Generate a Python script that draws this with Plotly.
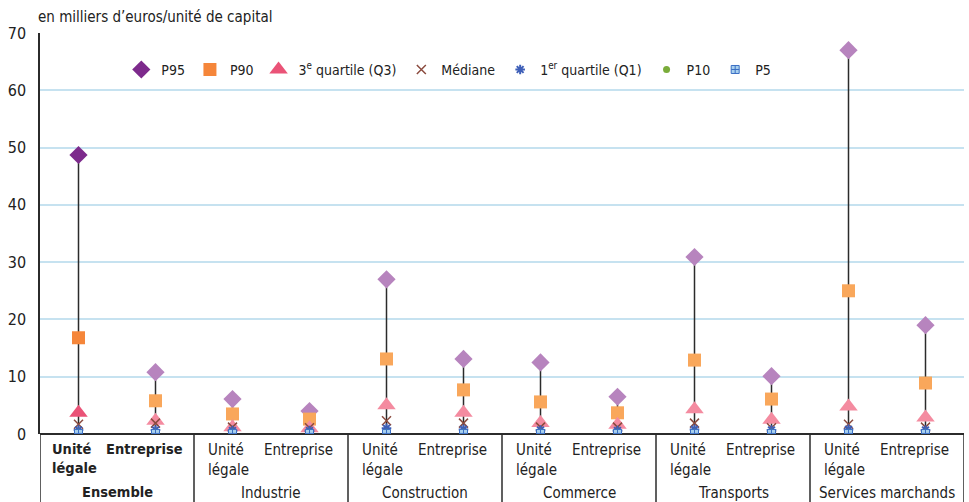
import plotly.graph_objects as go

# categories (12 points, 6 groups)
groups = ["Ensemble", "Industrie", "Construction", "Commerce", "Transports", "Services marchands"]
units = ["Unité<br>légale", "Entreprise"]

# values in thousands of euros / unit of capital
p95 = [48.7, 10.8, 6.1, 4.0, 27.0, 13.1, 12.5, 6.5, 30.9, 10.1, 67.0, 19.0]
p90 = [16.8, 5.8, 3.5, 2.6, 13.1, 7.7, 5.6, 3.7, 12.9, 6.1, 25.0, 8.9]
q3 = [3.7, 2.3, 1.2, 1.0, 5.0, 3.7, 1.9, 1.6, 4.3, 2.5, 4.8, 2.9]
med = [1.7, 1.9, 1.2, 1.1, 2.3, 1.9, 1.2, 1.2, 1.9, 1.1, 1.7, 1.2]
q1 = [0.7, 0.7, 0.6, 0.6, 1.0, 0.8, 0.7, 0.6, 0.8, 0.7, 0.8, 0.7]
p10 = [0.3, 0.3, 0.3, 0.3, 0.3, 0.3, 0.3, 0.3, 0.3, 0.3, 0.3, 0.3]
p5 = [0.1, 0.1, 0.1, 0.1, 0.1, 0.1, 0.1, 0.1, 0.1, 0.1, 0.1, 0.1]

FONT = "DejaVu Sans Condensed, Liberation Sans Narrow, Liberation Sans, sans-serif"
xs = list(range(len(p95)))

# first point (Ensemble, unité légale) uses darker shades
def shade(dark, light):
    return [dark] + [light] * (len(xs) - 1)

fig = go.Figure()

# high-low lines P5 -> P95
lx, ly = [], []
for i in xs:
    lx += [i, i, None]
    ly += [p5[i], p95[i], None]
fig.add_trace(go.Scatter(x=lx, y=ly, mode="lines", line=dict(color="#2b2b2b", width=1.5),
                         showlegend=False, hoverinfo="skip"))

fig.add_trace(go.Scatter(x=xs, y=p95, mode="markers", name="P95",
                         marker=dict(symbol="diamond", size=14, color=shade("#7d2a8c", "#b784be"))))
fig.add_trace(go.Scatter(x=xs, y=p90, mode="markers", name="P90",
                         marker=dict(symbol="square", size=13, color=shade("#f5863a", "#f9a75b"))))
fig.add_trace(go.Scatter(x=xs, y=q3, mode="markers", name="3<sup>e</sup> quartile (Q3)",
                         marker=dict(symbol="triangle-up", size=16, color=shade("#ea5377", "#f48ba0"))))
fig.add_trace(go.Scatter(x=xs, y=med, mode="markers", name="Médiane",
                         marker=dict(symbol="x-thin-open", size=9, color="#8b4b3f",
                                     line=dict(color="#8b4b3f", width=1.5))))
fig.add_trace(go.Scatter(x=xs, y=q1, mode="markers", name="1<sup>er</sup> quartile (Q1)",
                         marker=dict(symbol="asterisk-open", size=8, color="#3e5fb8",
                                     line=dict(color="#3e5fb8", width=2))))
fig.add_trace(go.Scatter(x=xs, y=p10, mode="markers", name="P10",
                         marker=dict(symbol="circle", size=7, color="#7aac3a")))
fig.add_trace(go.Scatter(x=xs, y=p5, mode="markers", name="P5",
                         marker=dict(symbol="square-cross", size=8, color="#a8d0ee",
                                     line=dict(color="#3b6fc4", width=1))))

# bottom table: separators and labels
shapes = []
for k in range(len(groups) + 1):
    xv = -0.5 + 2 * k
    shapes.append(dict(type="line", xref="x", yref="paper", x0=xv, x1=xv, y0=0, y1=-0.2,
                       line=dict(color="#2b2b2b", width=1.5)))

ann = []
for g, name in enumerate(groups):
    bold = g == 0
    fs = 14.5 if bold else 15
    for u in range(2):
        t = units[u]
        if bold:
            t = "<b>" + t.replace("<br>", "</b><br><b>") + "</b>"
        ann.append(dict(x=2 * g + u, y=-0.012, xref="x", yref="paper", text=t, showarrow=False,
                        xanchor="center", yanchor="top", align="left",
                        xshift=-4 if u == 0 else -11,
                        font=dict(family=FONT, size=fs, color="#222")))
    gt = "<b>" + name + "</b>" if bold else name
    ann.append(dict(x=2 * g + 0.5, y=-0.12, xref="x", yref="paper", text=gt, showarrow=False,
                    xanchor="center", yanchor="top",
                    font=dict(family=FONT, size=fs, color="#222")))

ann.append(dict(x=0, y=1.0, xref="paper", yref="paper", xanchor="left", yanchor="bottom",
                xshift=-4, yshift=5, text="en milliers d’euros/unité de capital", showarrow=False,
                font=dict(family=FONT, size=15, color="#222")))

fig.update_layout(
    width=969, height=502,
    margin=dict(l=40, r=5, t=33, b=68),
    plot_bgcolor="white", paper_bgcolor="white",
    font=dict(family=FONT, size=14, color="#222"),
    shapes=shapes, annotations=ann,
    legend=dict(orientation="h", x=0.088, y=0.908, xanchor="left", yanchor="middle",
                bgcolor="rgba(0,0,0,0)", font=dict(family=FONT, size=14)),
    xaxis=dict(range=[-0.5, 11.5], showticklabels=False, showgrid=False, zeroline=False,
               showline=False, fixedrange=True, automargin=False),
    yaxis=dict(range=[0, 70], dtick=10, showgrid=True, gridcolor="#c6e2f0", gridwidth=1.5,
               zeroline=True, zerolinecolor="#2b2b2b", zerolinewidth=1.5,
               showline=True, linecolor="#2b2b2b", linewidth=1.5, automargin=False,
               ticklabelstandoff=9,
               tickfont=dict(family=FONT, size=16, color="#222")),
)

fig.write_html("out.html", config={"displayModeBar": False},
               post_script="document.body.style.margin='0';")
